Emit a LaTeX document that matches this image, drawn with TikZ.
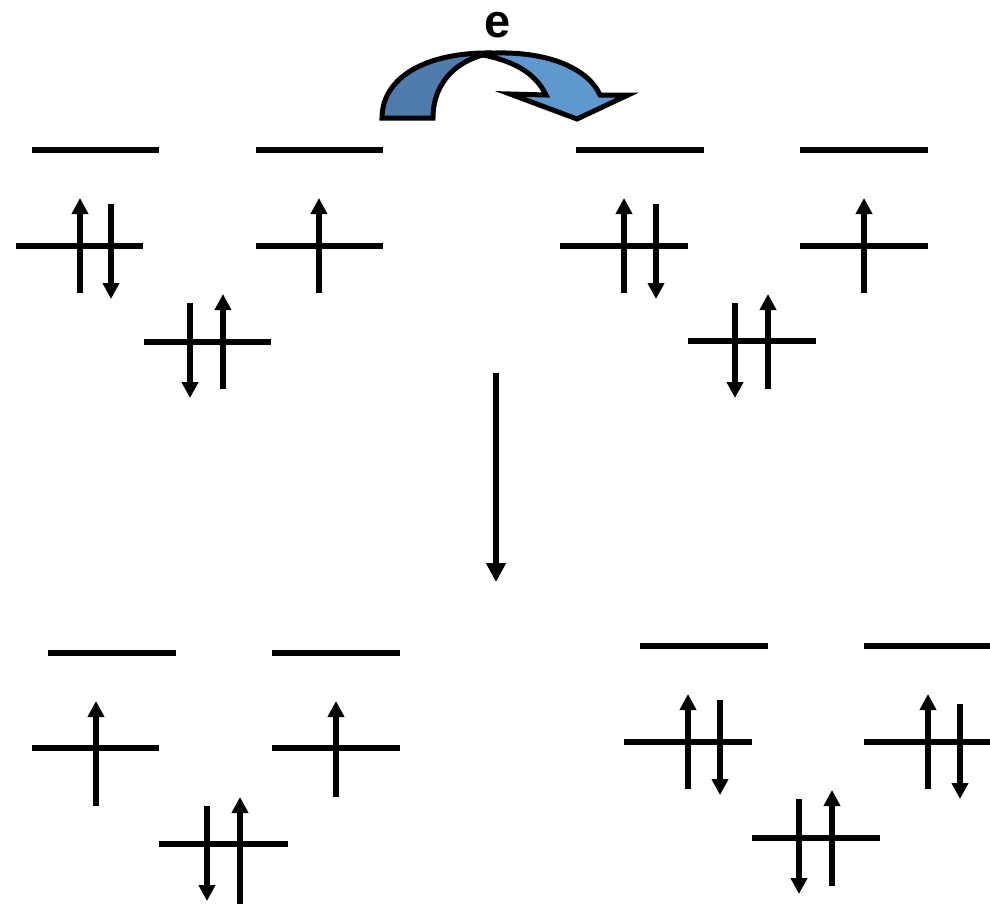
\documentclass[tikz,border=0pt]{standalone}
\usepackage{fontspec}
\setmainfont{Liberation Sans}
\usetikzlibrary{arrows.meta}

\definecolor{ribbondark}{HTML}{4F7BAD}
\definecolor{ribbonlight}{HTML}{5E98CE}

\tikzset{
  level/.style={line width=5.2pt},
  spin/.style={line width=5.2pt, -{Triangle[width=16pt,length=16pt]}},
  shift arrow/.style={line width=5.4pt, -{Triangle[width=19pt,length=19pt]}},
  ribbon/.style={draw=black, line width=5pt, line join=miter},
}

\begin{document}
\begin{tikzpicture}[x=1pt,y=-1pt]
\useasboundingbox (0,0) rectangle (990,903);

% ---------- electron transfer arrow ----------
\filldraw[ribbon, fill=ribbondark]
  (382,118) .. controls (382,78) and (425,52) .. (492,53)
  .. controls (460,58) and (433,80) .. (433,118) -- cycle;
\filldraw[ribbon, fill=ribbonlight]
  (478,54) .. controls (545,48) and (588,68) .. (600,95)
  -- (628,95) -- (577,119) -- (510,94) -- (546,95)
  .. controls (535,72) and (512,60) .. (478,54) -- cycle;
\node[font=\bfseries\fontsize{47}{47}\selectfont, inner sep=0pt, anchor=base]
  (elabel) at (498,37) {e};

% ---------- upper left set ----------
\draw[level] (32,150) -- (159,150);
\draw[level] (256,150) -- (383,150);
\draw[level] (16,246) -- (143,246);
\draw[spin] (80,293) -- (80,198);
\draw[spin] (111,204) -- (111,299);
\draw[level] (144,342) -- (271,342);
\draw[spin] (190,303) -- (190,398);
\draw[spin] (223,389) -- (223,294);
\draw[level] (256,246) -- (383,246);
\draw[spin] (319,293) -- (319,198);

% ---------- upper right set ----------
\draw[level] (576,150) -- (704,150);
\draw[level] (800,150) -- (928,150);
\draw[level] (560,246) -- (688,246);
\draw[spin] (624,293) -- (624,198);
\draw[spin] (656,204) -- (656,299);
\draw[level] (688,341) -- (816,341);
\draw[spin] (735,303) -- (735,398);
\draw[spin] (768,389) -- (768,294);
\draw[level] (800,246) -- (928,246);
\draw[spin] (864,293) -- (864,198);

% ---------- reaction arrow ----------
\coordinate (shiftstart) at (496,373);
\coordinate (shiftend) at (496,582);
\draw[shift arrow] (shiftstart) -- (shiftend);

% ---------- lower left set ----------
\draw[level] (48,653) -- (176,653);
\draw[level] (272,653) -- (400,653);
\draw[level] (32,748) -- (159,748);
\draw[spin] (96,806) -- (96,701);
\draw[level] (272,748) -- (400,748);
\draw[spin] (336,797) -- (336,701);
\draw[level] (159,844) -- (288,844);
\draw[spin] (207,806) -- (207,901);
\draw[spin] (240,905) -- (240,797);

% ---------- lower right set ----------
\draw[level] (640,646) -- (768,646);
\draw[level] (864,646) -- (990,646);
\draw[level] (624,742) -- (752,742);
\draw[spin] (688,789) -- (688,694);
\draw[spin] (720,700) -- (720,795);
\draw[level] (864,742) -- (990,742);
\draw[spin] (928,789) -- (928,694);
\draw[spin] (960,704) -- (960,799);
\draw[level] (752,838) -- (880,838);
\draw[spin] (799,799) -- (799,894);
\draw[spin] (832,886) -- (832,790);
\end{tikzpicture}
\end{document}
